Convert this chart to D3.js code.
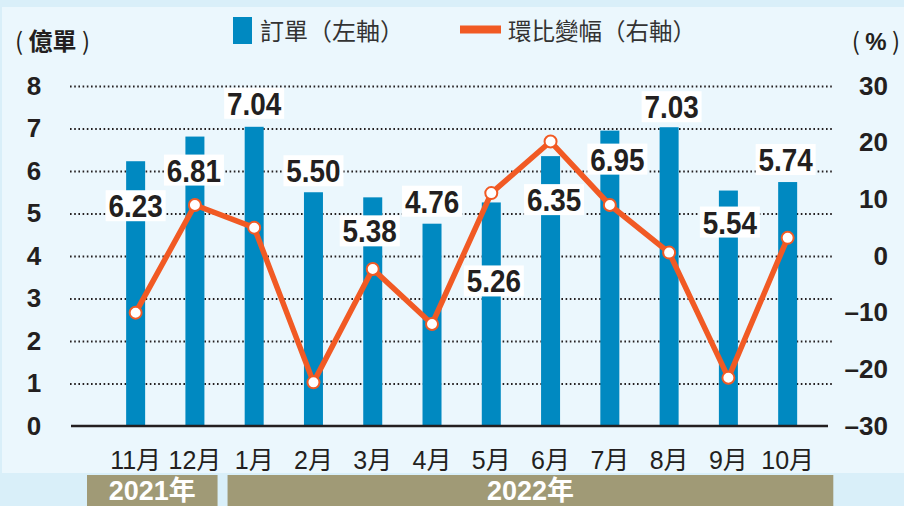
<!DOCTYPE html>
<html>
<head>
<meta charset="utf-8">
<script src="https://cdn.jsdelivr.net/npm/d3@7"></script>
<style>
  body { margin: 0; background: #d9eff9; }
  svg { display: block; }
</style>
</head>
<body>
<div id="chart"></div>
<script>
// data
const months = ["11月", "12月", "1月", "2月", "3月", "4月", "5月", "6月", "7月", "8月", "9月", "10月"];
const orders = [6.23, 6.81, 7.04, 5.50, 5.38, 4.76, 5.26, 6.35, 6.95, 7.03, 5.54, 5.74];
const change = [-10.0, 9.0, 5.0, -22.3, -2.3, -12.0, 11.1, 20.2, 9.0, 0.6, -21.5, 3.2];
const leftTicks = [0, 1, 2, 3, 4, 5, 6, 7, 8];
const rightTicks = [30, 20, 10, 0, -10, -20, -30];
const years = [
  { label: "2021年", first: "11月", last: "12月" },
  { label: "2022年", first: "1月", last: "10月" }
];

// where each value label sits, relative to its bar top (px)
const labelDx = [0, -1, 0, 0, -3, 0, 2.5, 3.5, 7.5, 2.5, 1.5, -2];
const labelDy = [56, 45, -12, -10, 45, -11, 90, 55, 40, -9, 43, -11];

const width = 904, height = 506;
const blue = "#0089c1", orange = "#f15a24", ink = "#231f20";
const numFont = "'Liberation Sans', Arial, sans-serif";
const cjkFont = "'Liberation Sans', 'Noto Sans CJK TC', sans-serif";

const svg = d3.select("#chart").append("svg")
  .attr("width", width)
  .attr("height", height);

// background panel
svg.append("rect").attr("width", width).attr("height", height).attr("fill", "#d9eff9");
svg.append("rect").attr("x", 2).attr("y", 7).attr("width", width - 2).attr("height", 466).attr("fill", "#ebf7fd");

let x = d3.scaleBand()
  .domain(months)
  .range([106, 817.3]);

let y = d3.scaleLinear()
  .domain([0, 8])
  .range([426, 86]);

let y2 = d3.scaleLinear()
  .domain([-30, 30])
  .range([426, 86]);

const cx = d => x(d) + x.bandwidth() / 2;
const barW = 19;

// dotted grid
svg.append("g")
  .attr("transform", "translate(70,0)")
  .call(d3.axisLeft(y).tickValues(leftTicks.filter(d => d > 0)).tickSize(-764).tickFormat(""))
  .call(g => g.select(".domain").remove())
  .call(g => g.selectAll("line")
    .attr("stroke", ink)
    .attr("stroke-width", 2)
    .attr("stroke-dasharray", "1.6,2.6"));

// bars
svg.append("g")
  .selectAll("rect")
  .data(orders)
  .join("rect")
  .attr("x", (d, i) => cx(months[i]) - barW / 2)
  .attr("y", d => y(d))
  .attr("width", barW)
  .attr("height", d => y(0) - y(d))
  .attr("fill", blue);

// baseline
svg.append("line")
  .attr("x1", 71).attr("x2", 828)
  .attr("y1", y(0)).attr("y2", y(0))
  .attr("stroke", ink)
  .attr("stroke-width", 2.5);

// month-on-month line
let line = d3.line()
  .x((d, i) => cx(months[i]))
  .y(d => y2(d));

svg.append("path")
  .datum(change)
  .attr("fill", "none")
  .attr("stroke", orange)
  .attr("stroke-width", 5.5)
  .attr("stroke-linejoin", "round")
  .attr("d", line);

svg.append("g")
  .selectAll("circle")
  .data(change)
  .join("circle")
  .attr("cx", (d, i) => cx(months[i]))
  .attr("cy", d => y2(d))
  .attr("r", 6)
  .attr("fill", "#fff")
  .attr("stroke", orange)
  .attr("stroke-width", 2);

// value labels on white boxes
const labels = svg.append("g")
  .selectAll("g")
  .data(orders)
  .join("g")
  .attr("transform", (d, i) => `translate(${cx(months[i]) + labelDx[i]},${y(d) + labelDy[i]})`);

labels.append("rect")
  .attr("x", -30).attr("y", -27)
  .attr("width", 60).attr("height", 31)
  .attr("fill", "#fff");

labels.append("text")
  .attr("text-anchor", "middle")
  .attr("transform", "scale(0.93,1.04)")
  .attr("font-family", numFont)
  .attr("font-weight", "bold")
  .attr("font-size", 30)
  .attr("fill", ink)
  .text(d => d.toFixed(2));

// left axis labels
svg.append("g")
  .attr("transform", "translate(34,0)")
  .call(d3.axisLeft(y).tickValues(leftTicks).tickSize(0).tickPadding(0))
  .call(g => g.select(".domain").remove())
  .call(g => g.selectAll("text")
    .attr("x", 0)
    .attr("text-anchor", "middle")
    .attr("font-family", numFont)
    .attr("font-weight", "bold")
    .attr("font-size", 26)
    .attr("fill", ink));

// right axis labels
svg.append("g")
  .attr("transform", "translate(888,0)")
  .call(d3.axisRight(y2).tickValues(rightTicks).tickSize(0).tickPadding(0)
    .tickFormat(d => d < 0 ? "–" + Math.abs(d) : d))
  .call(g => g.select(".domain").remove())
  .call(g => g.selectAll("text")
    .attr("x", 0)
    .attr("text-anchor", "end")
    .attr("font-family", numFont)
    .attr("font-weight", "bold")
    .attr("font-size", 26)
    .attr("fill", ink));

// month labels
svg.append("g")
  .attr("transform", `translate(0,${y(0)})`)
  .call(d3.axisBottom(x).tickSize(0).tickPadding(25))
  .call(g => g.select(".domain").remove())
  .call(g => g.selectAll("text")
    .attr("font-family", cjkFont)
    .attr("font-size", 25)
    .attr("fill", ink));

// year bands
const bandPad = { "2021年": [-19, -7], "2022年": [3, 16] };
const yearG = svg.append("g")
  .selectAll("g")
  .data(years)
  .join("g");

yearG.append("rect")
  .attr("x", d => x(d.first) + bandPad[d.label][0])
  .attr("y", 475)
  .attr("width", d => x(d.last) + x.bandwidth() + bandPad[d.label][1] - x(d.first) - bandPad[d.label][0])
  .attr("height", 31)
  .attr("fill", "#a09a76");

yearG.append("text")
  .attr("x", d => (x(d.first) + bandPad[d.label][0] + x(d.last) + x.bandwidth() + bandPad[d.label][1]) / 2)
  .attr("y", 500)
  .attr("text-anchor", "middle")
  .attr("font-family", "'Liberation Sans', 'Noto Sans CJK TC', sans-serif")
  .attr("font-weight", "bold")
  .attr("font-size", 27)
  .attr("fill", "#fff")
  .text(d => d.label);

// unit labels
svg.append("text")
  .attr("x", 15).attr("y", 50)
  .attr("font-family", "'Noto Sans CJK TC', sans-serif")
  .attr("font-size", 24)
  .attr("fill", ink)
  .call(t => {
    t.append("tspan").text("( ");
    t.append("tspan").attr("font-weight", "bold").text("億單");
    t.append("tspan").text(" )");
  });

svg.append("text")
  .attr("x", 900).attr("y", 50)
  .attr("text-anchor", "end")
  .attr("font-family", "'Noto Sans CJK TC', sans-serif")
  .attr("font-size", 24)
  .attr("fill", ink)
  .call(t => {
    t.append("tspan").text("( ");
    t.append("tspan").attr("font-family", numFont).attr("font-weight", "bold").text("%");
    t.append("tspan").text(" )");
  });

// legend
svg.append("rect")
  .attr("x", 233).attr("y", 17)
  .attr("width", 19).attr("height", 27)
  .attr("fill", blue);
svg.append("text")
  .attr("x", 260).attr("y", 40)
  .attr("font-family", "'Noto Sans CJK TC', sans-serif")
  .attr("font-size", 24)
  .attr("fill", "#333")
  .text("訂單（左軸）");

svg.append("line")
  .attr("x1", 460).attr("x2", 501)
  .attr("y1", 29.5).attr("y2", 29.5)
  .attr("stroke", orange)
  .attr("stroke-width", 8);
svg.append("text")
  .attr("x", 508).attr("y", 40)
  .attr("font-family", "'Noto Sans CJK TC', sans-serif")
  .attr("font-size", 23.5)
  .attr("fill", "#333")
  .text("環比變幅（右軸）");
</script>
</body>
</html>
